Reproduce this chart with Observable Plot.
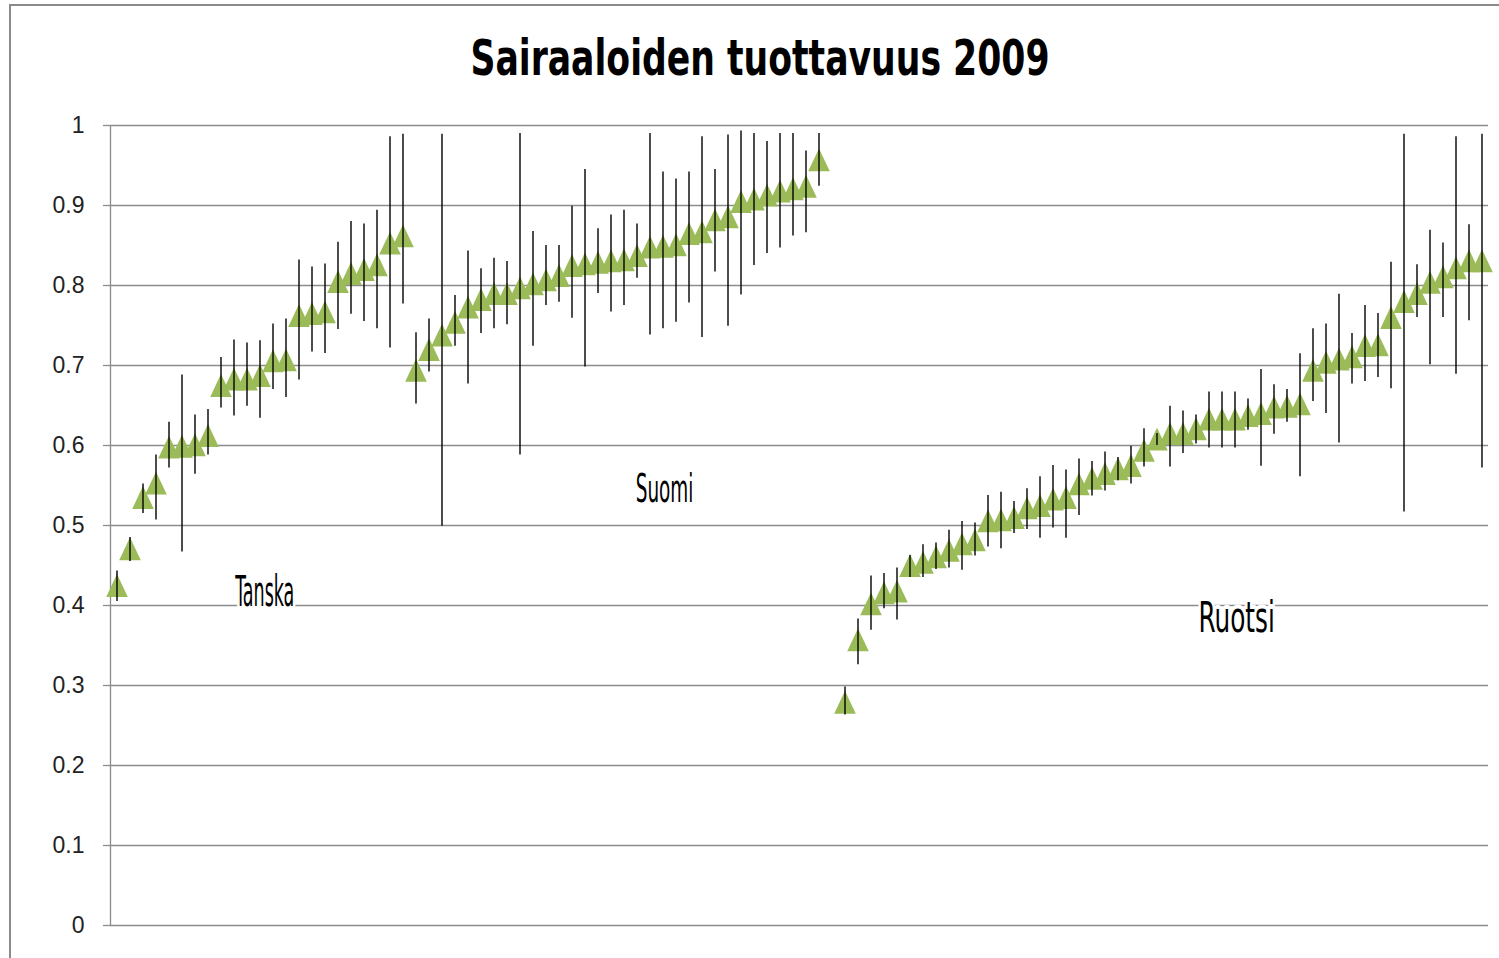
<!DOCTYPE html>
<html><head><meta charset="utf-8">
<script src="https://cdn.jsdelivr.net/npm/d3@7"></script>
<script src="https://cdn.jsdelivr.net/npm/@observablehq/plot@0.6"></script>
<style>
body{margin:0;background:#fff;}
#wrap{position:relative;width:1499px;height:958px;overflow:hidden;background:#fff;}
#frame{position:absolute;left:9px;top:4px;width:1600px;height:1000px;border-left:2px solid #8a8a8a;border-top:2px solid #8a8a8a;}
#title{position:absolute;left:0;width:1520px;top:33px;text-align:center;font-weight:bold;font-size:38.5px;line-height:40px;font-family:"Liberation Sans Narrow","DejaVu Sans Condensed",sans-serif;color:#000;transform:scaleY(1.28);transform-origin:center top;}
#chart{position:absolute;left:0;top:0;}
</style></head>
<body>
<div id="wrap"><div id="frame"></div><div id="chart"></div><div id="title">Sairaaloiden tuottavuus 2009</div></div>
<script>
// Tanska (Denmark)
const tanskaV  = [0.425,0.471,0.535,0.553,0.598,0.599,0.601,0.6125,0.675,0.683,0.683,0.6875,0.706,0.707,0.7625,0.765,0.767,0.805,0.815,0.82,0.826,0.853,0.862];
const tanskaLo = [0.405,0.455,0.515,0.507,0.572,0.467,0.564,0.588,0.647,0.637,0.649,0.634,0.670,0.660,0.682,0.717,0.715,0.745,0.764,0.755,0.746,0.722,0.777];
const tanskaHi = [0.443,0.485,0.552,0.588,0.629,0.688,0.638,0.645,0.710,0.732,0.728,0.731,0.752,0.758,0.832,0.823,0.827,0.854,0.880,0.877,0.894,0.986,0.989];
// Suomi (Finland)
const suomiV  = [0.694,0.72,0.738,0.754,0.773,0.7825,0.79,0.79,0.797,0.802,0.807,0.8125,0.825,0.827,0.829,0.831,0.832,0.8375,0.848,0.849,0.851,0.865,0.867,0.882,0.886,0.905,0.908,0.913,0.918,0.921,0.924,0.957];
const suomiLo = [0.652,0.692,0.499,0.724,0.677,0.740,0.746,0.751,0.588,0.724,0.775,0.779,0.759,0.698,0.790,0.767,0.775,0.809,0.738,0.746,0.754,0.778,0.735,0.817,0.749,0.788,0.825,0.840,0.847,0.862,0.866,0.924];
const suomiHi = [0.741,0.758,0.989,0.7875,0.843,0.821,0.834,0.830,0.990,0.8675,0.850,0.850,0.899,0.945,0.871,0.888,0.894,0.877,0.990,0.942,0.933,0.942,0.986,0.945,0.988,0.993,0.990,0.980,0.990,0.990,0.968,0.990];
// Ruotsi (Sweden)
const ruotsiV  = [0.279,0.357,0.402,0.416,0.418,0.45,0.454,0.461,0.469,0.477,0.482,0.506,0.507,0.51,0.522,0.525,0.533,0.535,0.552,0.559,0.565,0.571,0.575,0.594,0.608,0.615,0.615,0.621,0.633,0.633,0.633,0.6375,0.64,0.648,0.649,0.652,0.694,0.704,0.708,0.711,0.725,0.726,0.76,0.78,0.79,0.804,0.811,0.822,0.831,0.831];
const ruotsiLo = [0.263,0.326,0.369,0.396,0.382,0.435,0.435,0.445,0.447,0.444,0.462,0.473,0.471,0.490,0.495,0.484,0.497,0.484,0.5125,0.537,0.543,0.556,0.552,0.573,0.600,0.573,0.590,0.602,0.597,0.597,0.597,0.619,0.574,0.614,0.629,0.561,0.655,0.640,0.603,0.677,0.680,0.685,0.671,0.517,0.760,0.701,0.760,0.689,0.756,0.572];
const ruotsiHi = [0.298,0.383,0.437,0.440,0.447,0.4625,0.476,0.478,0.494,0.505,0.503,0.5375,0.5415,0.530,0.546,0.561,0.575,0.5695,0.583,0.580,0.592,0.585,0.599,0.621,0.615,0.649,0.643,0.638,0.667,0.667,0.667,0.658,0.695,0.676,0.670,0.7146,0.746,0.752,0.789,0.740,0.775,0.765,0.829,0.989,0.826,0.869,0.853,0.986,0.876,0.989];
// y ticks
const yTicks = [0,0.1,0.2,0.3,0.4,0.5,0.6,0.7,0.8,0.9,1];
// group labels (text, category position, value position)
const labelNames = ["Tanska","Suomi","Ruotsi"];
const labelX = [9.1, 39.9, 83.2];
const labelY = [0.416, 0.545, 0.384];

// build rows: one empty category between Suomi and Ruotsi
const rows = [];
let idx = 0;
for (const [V, L, H] of [[tanskaV,tanskaLo,tanskaHi],[suomiV,suomiLo,suomiHi]]) {
  V.forEach((v,k) => rows.push({i: idx++, v, lo: L[k], hi: H[k]}));
}
idx++; // gap category
ruotsiV.forEach((v,k) => rows.push({i: idx++, v, lo: ruotsiLo[k], hi: ruotsiHi[k]}));
const nCat = idx;
const labels = labelNames.map((t,k) => ({t, x: labelX[k], y: labelY[k]}));

// label styling (font size and vertical stretch per label)
const labelFont = [19.5, 20.5, 27.5];
const labelStretch = [2.2, 1.9, 1.57];

// triangle marker centred on its bounding box, slightly taller than wide
const tri = {draw(ctx, size) {
  const r = Math.sqrt(size / Math.PI), w = r, h = r * 1.06;
  ctx.moveTo(0, -h); ctx.lineTo(w, h); ctx.lineTo(-w, h); ctx.closePath();
}};

const chart = Plot.plot({
  width: 1499, height: 958,
  marginLeft: 110, marginRight: 11, marginTop: 125, marginBottom: 33,
  style: {background: "transparent", overflow: "visible"},
  x: {domain: [-0.5, nCat - 0.5], axis: null},
  y: {domain: [0, 1], axis: null},
  marks: [
    Plot.gridY(yTicks, {stroke: "#8c8c8c", strokeOpacity: 1, strokeWidth: 1.3}),
    Plot.axisY(yTicks, {tickSize: 7, tickPadding: 19, fontSize: 23, fill: "#222", stroke: "#8c8c8c", strokeOpacity: 1, strokeWidth: 1.3, fontFamily: "Liberation Sans, sans-serif", tickFormat: d => String(+d.toFixed(1)), label: null}),
    Plot.ruleX([-0.5], {y1: 0, y2: 1, stroke: "#8c8c8c", strokeWidth: 1.3}),
    Plot.text(labels, {x: "x", y: "y", text: "t", textAnchor: "start", fontSize: 20, fontFamily: "Liberation Sans Narrow, DejaVu Sans Condensed, sans-serif", fill: "#000", stroke: "white", strokeWidth: 5, paintOrder: "stroke"}),
    Plot.dot(rows, {x: "i", y: "v", symbol: tri, fill: "#9BBB59", r: 10.8}),
    Plot.ruleX(rows, {x: "i", y1: "lo", y2: "hi", stroke: "#000", strokeWidth: 1.4})
  ]
});
document.getElementById("chart").appendChild(chart);
d3.select(chart).selectAll('g[aria-label="text"] text').each(function(d, k){
  const t = this.getAttribute("transform") || "";
  this.setAttribute("font-size", labelFont[k]);
  this.setAttribute("transform", t + ` scale(1,${labelStretch[k]})`);
});
</script>
</body></html>
